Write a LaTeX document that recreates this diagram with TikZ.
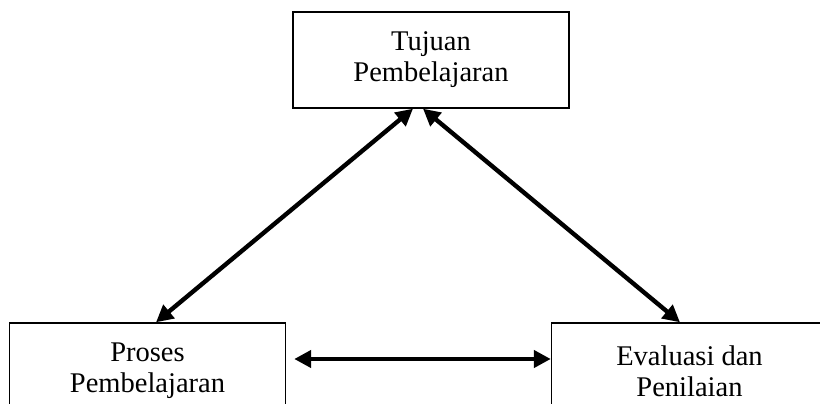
\documentclass[tikz,border=0pt]{standalone}
\usepackage{fontspec}
\setmainfont{Liberation Serif}
\usetikzlibrary{arrows.meta}
\tikzset{
  box/.style={draw, line width=1.4pt, minimum width=276pt, minimum height=96pt,
    inner sep=0pt, align=center, font=\fontsize{28.5}{31}\selectfont},
  biarrow/.style={line width=4.4pt, {Triangle[length=17pt,width=17pt]}-{Triangle[length=17pt,width=17pt]}}
}
\begin{document}
\begin{tikzpicture}[x=1pt,y=-1pt]
\useasboundingbox (0,0) rectangle (820,404);
\clip (0,0) rectangle (820,404);
\node[box] (top) at (431,60) {Tujuan\\Pembelajaran};
\node[box] (left) at (147.5,371) {Proses\\Pembelajaran};
\node[box] (right) at (689.5,371) {Evaluasi dan\\Penilaian};
\draw[biarrow] ([xshift=-18pt]top.south) -- ([xshift=8.5pt]left.north);
\draw[biarrow] ([xshift=-8pt]top.south) -- ([xshift=-9.5pt]right.north);
\draw[biarrow] ([xshift=8pt,yshift=12pt]left.east) -- ([yshift=12pt]right.west);
\end{tikzpicture}
\end{document}
